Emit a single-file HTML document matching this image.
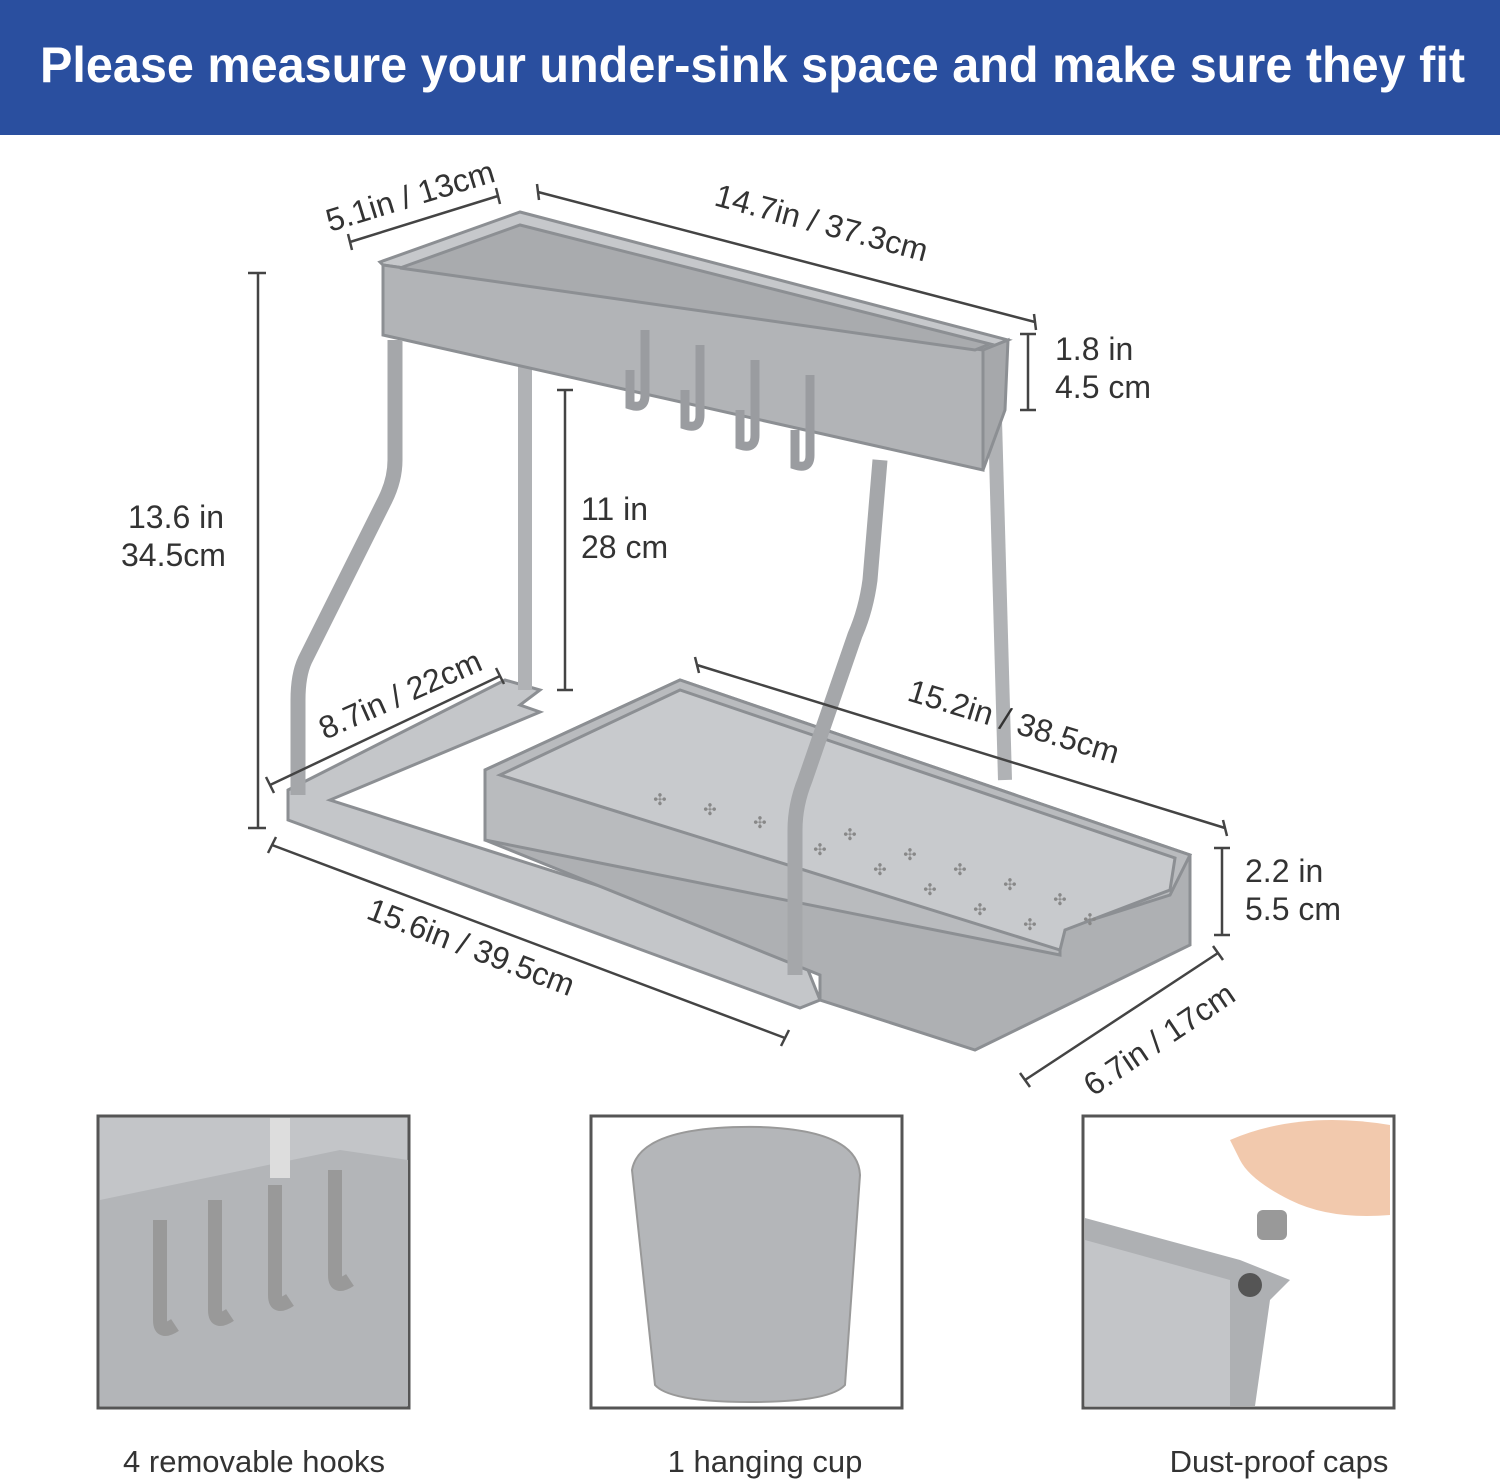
<!DOCTYPE html>
<html><head><meta charset="utf-8"><style>
html,body{margin:0;padding:0;background:#fff;width:1500px;height:1484px;overflow:hidden}
svg{display:block}
</style></head><body>
<svg width="1500" height="1484" viewBox="0 0 1500 1484" xmlns="http://www.w3.org/2000/svg" font-family="Liberation Sans, sans-serif">
<rect x="0" y="0" width="1500" height="135" fill="#2a4f9f"/>
<text x="40" y="82" font-size="50" font-weight="bold" fill="#fff" textLength="1425" lengthAdjust="spacingAndGlyphs">Please measure your under-sink space and make sure they fit</text>

<g stroke="#8c8f93" stroke-width="3" fill="#b5b7ba">
<polygon points="288,790 505,680 540,690 520,705 540,712 330,800 800,950 820,1000 800,1008 288,820" fill="#c4c6c9"/>
<polygon points="485,770 680,680 1190,855 1190,915 1190,945 975,1050 820,1000 820,975 485,840" fill="#aeb0b3"/>
<polygon points="485,770 485,840 1060,955 1060,930 1170,895 1190,855 680,680" fill="#b9bbbe"/>
<polygon points="500,775 680,690 1175,858 1170,890 1065,930 1060,950" fill="#c8cacd"/>
<line x1="525" y1="350" x2="525" y2="690" stroke-width="14" stroke="#b0b2b5"/>
<line x1="995" y1="420" x2="1005" y2="780" stroke-width="14" stroke="#b0b2b5"/>
<polygon points="380,262 520,212 1008,340 983,350 383,265" fill="#c6c8cb"/>
<polygon points="383,265 983,350 983,470 383,335" fill="#b2b4b7"/>
<polygon points="983,350 1008,340 1005,410 983,470" fill="#a6a8ab"/>
<polygon points="400,268 520,225 990,344 975,350" fill="#a9abae"/>
</g>
<path d="M395,340 L395,460 Q395,480 385,500 L305,660 Q298,675 298,700 L298,795" fill="none" stroke="#a5a7aa" stroke-width="15"/>
<path d="M880,460 L870,580 Q866,610 855,635 L805,780 Q795,805 795,830 L795,975" fill="none" stroke="#a5a7aa" stroke-width="15"/>
<g fill="none" stroke="#9a9ca0" stroke-width="9">
<path d="M645,330 L645,395 Q645,410 630,405 L630,370"/>
<path d="M700,345 L700,415 Q700,430 685,425 L685,390"/>
<path d="M755,360 L755,435 Q755,450 740,445 L740,410"/>
<path d="M810,375 L810,455 Q810,470 795,465 L795,430"/>
</g>
<g fill="#888" font-size="16" text-anchor="middle">
<text x="660" y="805">✣</text><text x="710" y="815">✣</text><text x="760" y="828">✣</text><text x="850" y="840">✣</text><text x="910" y="860">✣</text><text x="960" y="875">✣</text><text x="1010" y="890">✣</text><text x="1060" y="905">✣</text>
<text x="820" y="855">✣</text><text x="880" y="875">✣</text><text x="930" y="895">✣</text><text x="980" y="915">✣</text><text x="1030" y="930">✣</text><text x="1090" y="925">✣</text>
</g>

<g stroke="#444" stroke-width="2.5" fill="none">
<path d="M350,242 L498,196 M348,234 L352,250 M496,188 L500,204"/>
<path d="M538,192 L1035,322 M537,184 L539,200 M1034,314 L1036,330"/>
<path d="M1028,334 L1028,410 M1020,334 L1036,334 M1020,410 L1036,410"/>
<path d="M258,273 L258,828 M248,273 L266,273 M248,828 L266,828"/>
<path d="M565,390 L565,690 M557,390 L573,390 M557,690 L573,690"/>
<path d="M270,785 L500,676 M266,777 L274,793 M496,668 L504,684"/>
<path d="M697,665 L1225,828 M695,657 L699,673 M1223,820 L1227,836"/>
<path d="M1222,848 L1222,935 M1214,848 L1230,848 M1214,935 L1230,935"/>
<path d="M272,845 L785,1038 M268,853 L276,837 M781,1046 L789,1030"/>
<path d="M1025,1080 L1218,953 M1020,1073 L1030,1087 M1213,946 L1223,960"/>
</g>
<g font-size="32" fill="#333">
<text transform="translate(330,232) rotate(-17)">5.1in / 13cm</text>
<text transform="translate(713,205) rotate(15)">14.7in / 37.3cm</text>
<text x="1055" y="360">1.8 in</text><text x="1055" y="398">4.5 cm</text>
<text x="128" y="528">13.6 in</text><text x="121" y="566">34.5cm</text>
<text x="581" y="520">11 in</text><text x="581" y="558">28 cm</text>
<text transform="translate(325,740) rotate(-24)">8.7in / 22cm</text>
<text transform="translate(906,700) rotate(17)">15.2in / 38.5cm</text>
<text x="1245" y="882">2.2 in</text><text x="1245" y="920">5.5 cm</text>
<text transform="translate(365,918) rotate(21)">15.6in / 39.5cm</text>
<text transform="translate(1093,1097) rotate(-34)">6.7in / 17cm</text>
</g>

<g stroke="#555" stroke-width="3">
<rect x="98" y="1116" width="311" height="292" fill="#c3c5c8"/>
<rect x="591" y="1116" width="311" height="292" fill="#fff"/>
<rect x="1083" y="1116" width="311" height="292" fill="#fff"/>
</g>
<polygon points="100,1200 340,1150 408,1160 408,1406 100,1406" fill="#b3b5b8"/>
<rect x="270" y="1118" width="20" height="60" fill="#ddd"/>
<g fill="none" stroke="#999" stroke-width="14">
<path d="M160,1220 L160,1320 Q160,1335 175,1325"/><path d="M215,1200 L215,1310 Q215,1325 230,1315"/>
<path d="M275,1185 L275,1295 Q275,1310 290,1300"/><path d="M335,1170 L335,1275 Q335,1290 350,1280"/>
</g>
<path d="M632,1170 Q640,1125 760,1127 Q858,1130 860,1175 L845,1385 Q830,1402 750,1402 Q670,1402 655,1385 Z" fill="#b4b6b9" stroke="#999" stroke-width="2"/>
<path d="M1085,1218 L1240,1260 L1290,1280 L1270,1300 L1255,1406 L1085,1406 Z" fill="#aeb0b3"/>
<polygon points="1085,1240 1230,1280 1230,1406 1085,1406" fill="#c3c5c8"/>
<circle cx="1250" cy="1285" r="12" fill="#555"/>
<path d="M1230,1140 Q1300,1110 1390,1125 L1390,1215 Q1330,1220 1290,1200 Q1250,1180 1240,1160 Z" fill="#f2c9ad"/>
<rect x="1257" y="1210" width="30" height="30" rx="6" fill="#999"/>
<g font-size="31" fill="#333" text-anchor="middle">
<text x="254" y="1472">4 removable hooks</text>
<text x="765" y="1472">1 hanging cup</text>
<text x="1279" y="1472">Dust-proof caps</text>
</g>
</svg>
</body></html>
